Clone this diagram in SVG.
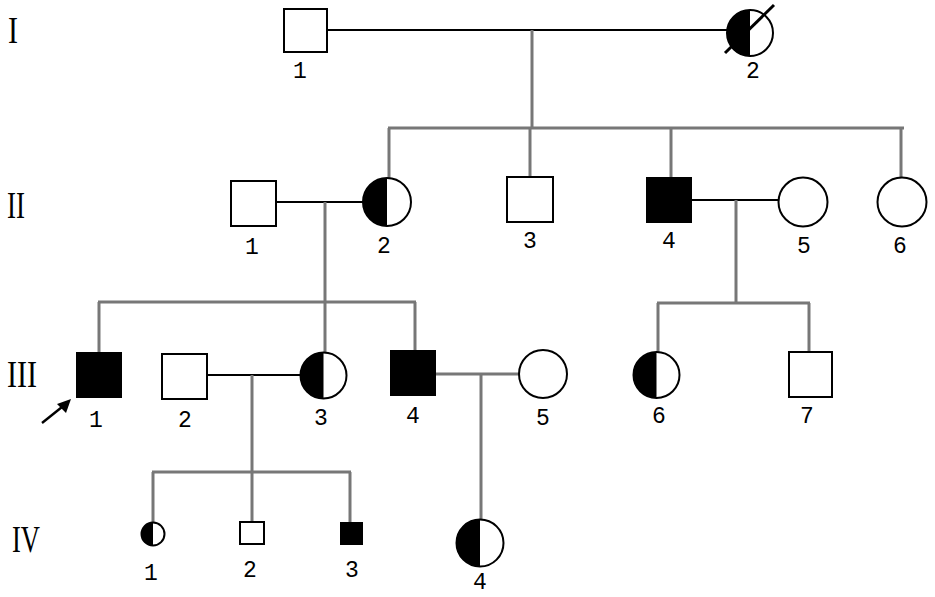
<svg xmlns="http://www.w3.org/2000/svg" width="935" height="597" viewBox="0 0 935 597">
<style>
.sq{fill:#fff;stroke:#000;stroke-width:2}
.aff{fill:#000;stroke:#000;stroke-width:2}
.ci{fill:#fff;stroke:#000;stroke-width:2}
.half{fill:#000}
.mate{stroke:#000;stroke-width:2;fill:none}
.desc{stroke:#777;stroke-width:3;fill:none}
.num{font-family:"Liberation Mono",monospace;font-size:23px;text-anchor:middle;fill:#000}
.gen{font-family:"Liberation Serif",serif;font-size:38px;fill:#000}
</style>
<rect width="935" height="597" fill="#fff"/>
<g id="connectors">
<line class="mate" x1="327" y1="30" x2="727" y2="30"/>
<line class="desc" x1="532" y1="30" x2="532" y2="128"/>
<line class="desc" x1="388" y1="128" x2="904" y2="128"/>
<line class="desc" x1="389" y1="128" x2="389" y2="178"/>
<line class="desc" x1="530" y1="128" x2="530" y2="177"/>
<line class="desc" x1="671" y1="128" x2="671" y2="177"/>
<line class="desc" x1="901" y1="128" x2="901" y2="177"/>
<line class="mate" x1="276" y1="202" x2="363" y2="202"/>
<line class="desc" x1="325" y1="202" x2="325" y2="352"/>
<line class="desc" x1="98" y1="302" x2="416" y2="302"/>
<line class="desc" x1="99" y1="302" x2="99" y2="353"/>
<line class="desc" x1="415" y1="302" x2="415" y2="351"/>
<line class="mate" x1="691" y1="200" x2="778" y2="200"/>
<line class="desc" x1="736" y1="200" x2="736" y2="303"/>
<line class="desc" x1="657" y1="303" x2="810" y2="303"/>
<line class="desc" x1="658" y1="303" x2="658" y2="352"/>
<line class="desc" x1="809" y1="303" x2="809" y2="351"/>
<line class="mate" x1="207" y1="375" x2="300" y2="375"/>
<line class="desc" x1="252" y1="375" x2="252" y2="522"/>
<line class="desc" x1="152" y1="472" x2="351" y2="472"/>
<line class="desc" x1="153" y1="472" x2="153" y2="522"/>
<line class="desc" x1="350" y1="472" x2="350" y2="523"/>
<line class="desc" x1="435" y1="374" x2="519" y2="374"/>
<line class="desc" x1="481" y1="374" x2="481" y2="519"/>
</g>
<g id="gen-labels">
<text class="gen" x="8" y="43" textLength="10" lengthAdjust="spacingAndGlyphs">I</text>
<text class="gen" x="7" y="218" textLength="18" lengthAdjust="spacingAndGlyphs">II</text>
<text class="gen" x="7" y="387" textLength="30" lengthAdjust="spacingAndGlyphs">III</text>
<text class="gen" x="12" y="552" textLength="28" lengthAdjust="spacingAndGlyphs">IV</text>
</g>
<g id="I-1">
<rect class="sq" x="284" y="9" width="43" height="43"/>
<text class="num" x="300" y="78">1</text>
</g>
<g id="I-2">
<circle class="ci" cx="750" cy="33" r="23"/>
<path class="half" d="M750,10 A23,23 0 0 0 750,56 Z"/>
<line x1="725" y1="53" x2="774" y2="5" stroke="#000" stroke-width="3"/>
<text class="num" x="753" y="78">2</text>
</g>
<g id="II-1">
<rect class="sq" x="231" y="181" width="45" height="45"/>
<text class="num" x="252" y="254">1</text>
</g>
<g id="II-2">
<circle class="ci" cx="387" cy="202" r="24"/>
<path class="half" d="M387,178 A24,24 0 0 0 387,226 Z"/>
<text class="num" x="384" y="253">2</text>
</g>
<g id="II-3">
<rect class="sq" x="507" y="177" width="46" height="45"/>
<text class="num" x="530" y="248">3</text>
</g>
<g id="II-4">
<rect class="aff" x="647" y="178" width="44" height="44"/>
<text class="num" x="669" y="248">4</text>
</g>
<g id="II-5">
<circle class="ci" cx="803" cy="202" r="24.5"/>
<text class="num" x="804" y="253">5</text>
</g>
<g id="II-6">
<circle class="ci" cx="902" cy="202" r="24.5"/>
<text class="num" x="900" y="253">6</text>
</g>
<g id="III-1">
<rect class="aff" x="77" y="353" width="44" height="44"/>
<text class="num" x="96" y="427">1</text>
<line x1="42" y1="423" x2="62" y2="407" stroke="#000" stroke-width="2.5"/>
<polygon points="71,399 57,404 66,413" fill="#000"/>
</g>
<g id="III-2">
<rect class="sq" x="162" y="354" width="45" height="45"/>
<text class="num" x="185" y="427">2</text>
</g>
<g id="III-3">
<circle class="ci" cx="323.5" cy="375.5" r="23"/>
<path class="half" d="M323.5,352.5 A23,23 0 0 0 323.5,398.5 Z"/>
<text class="num" x="321" y="425">3</text>
</g>
<g id="III-4">
<rect class="aff" x="391" y="351" width="44" height="44"/>
<text class="num" x="413" y="423">4</text>
</g>
<g id="III-5">
<circle class="ci" cx="543" cy="374" r="24"/>
<text class="num" x="543" y="425">5</text>
</g>
<g id="III-6">
<circle class="ci" cx="656.5" cy="375" r="23"/>
<path class="half" d="M656.5,352 A23,23 0 0 0 656.5,398 Z"/>
<text class="num" x="659" y="423">6</text>
</g>
<g id="III-7">
<rect class="sq" x="789" y="352" width="43" height="45"/>
<text class="num" x="807" y="423">7</text>
</g>
<g id="IV-1">
<circle class="ci" cx="153" cy="534" r="11.5"/>
<path class="half" d="M153,522.5 A11.5,11.5 0 0 0 153,545.5 Z"/>
<text class="num" x="151" y="580">1</text>
</g>
<g id="IV-2">
<rect class="sq" x="240" y="522" width="24" height="22"/>
<text class="num" x="250" y="577">2</text>
</g>
<g id="IV-3">
<rect class="aff" x="341" y="523" width="21" height="21"/>
<text class="num" x="352" y="577">3</text>
</g>
<g id="IV-4">
<circle class="ci" cx="480" cy="543" r="23.5"/>
<path class="half" d="M480,519.5 A23.5,23.5 0 0 0 480,566.5 Z"/>
<text class="num" x="480" y="589">4</text>
</g>
</svg>
